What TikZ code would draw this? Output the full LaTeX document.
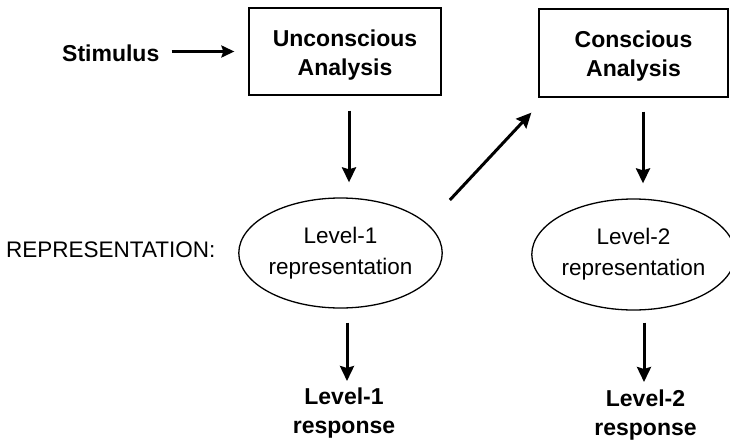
\documentclass[tikz,border=0pt]{standalone}
\usepackage{fontspec}
\setmainfont{Liberation Sans}
\usetikzlibrary{arrows.meta,shapes.geometric}
\begin{document}
\begin{tikzpicture}[x=1pt,y=-1pt,
  txt/.style={inner sep=0pt,font=\fontsize{22.5}{29}\selectfont,align=center},
  btxt/.style={txt,font=\fontsize{23}{29}\selectfont\bfseries},
  box/.style={draw,line width=1.3pt,rectangle,inner sep=0pt},
  boxlabel/.style={label={[btxt,yshift=-3.5pt]center:#1}},
  ell/.style={draw,line width=1.3pt,ellipse,font=\fontsize{22.5}{31}\selectfont,align=center,inner sep=0pt},
  arr/.style={line width=3pt,-{Stealth[length=15pt,width=14pt,inset=2pt]}},
  harr/.style={line width=2.6pt,-{Stealth[length=13pt,width=12pt,inset=2pt]}}]
\useasboundingbox (0,0) rectangle (730,442);
\node[btxt,anchor=base west] (stim) at (62,61) {Stimulus};
\node[box,minimum width=192pt,minimum height=87pt,boxlabel={Unconscious\\Analysis}] (box1) at (345,51.5) {};
\node[box,minimum width=189pt,minimum height=88pt,boxlabel={Conscious\\Analysis}] (box2) at (633.5,53) {};
\node[txt,anchor=base west] (rep) at (6,257) {REPRESENTATION:};
\node[ell,minimum width=191pt,minimum height=110pt] (e1) at (340.5,253) {Level-1\\representation};
\node[ell,minimum width=179pt,minimum height=111pt] (e2) at (633.5,254.5) {Level-2\\representation};
\node[btxt,anchor=north] (r1) at (344,388) {Level-1\\response};
\node[btxt,anchor=north] (r2) at (645.5,390) {Level-2\\response};
\draw[harr,shorten <=12pt,shorten >=14pt] (stim.east |- box1.west) -- (box1.west);
\draw[arr,shorten <=15pt,shorten >=15pt] ([xshift=4pt]box1.south) -- ([xshift=4pt]box1.south |- e1.north);
\draw[arr] ([shift={(7,-53)}]e1.east) -- ([shift={(-7,15)}]box2.south west);
\draw[arr,shorten <=14pt,shorten >=15pt] ([xshift=9.5pt]box2.south) -- ([xshift=9.5pt]box2.south |- e2.north);
\draw[arr,shorten <=14pt,shorten >=7pt] ([xshift=6.5pt]e1.south) -- ([xshift=6.5pt]e1.south |- r1.north);
\draw[arr,shorten <=12pt,shorten >=8pt] ([xshift=10.5pt]e2.south) -- ([xshift=10.5pt]e2.south |- r2.north);
\end{tikzpicture}
\end{document}
